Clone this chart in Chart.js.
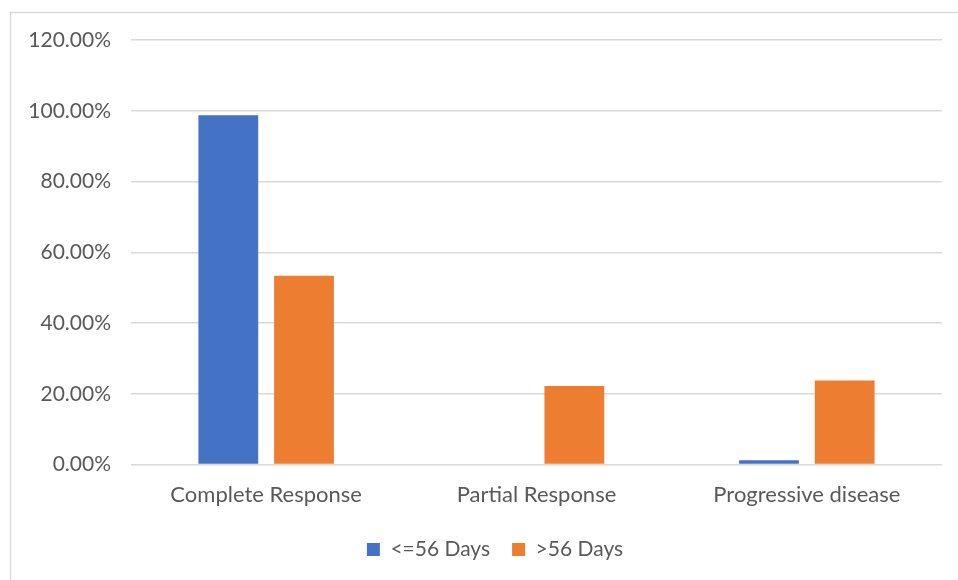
<!DOCTYPE html>
<html>
<head>
<meta charset="utf-8">
<script src="https://cdn.jsdelivr.net/npm/chart.js@4"></script>
<style>
  html, body { margin: 0; padding: 0; background: #ffffff; }
  #wrap { position: relative; width: 958px; height: 580px; }
</style>
</head>
<body>
<div id="wrap"><canvas id="chart" width="958" height="580"></canvas></div>
<script>
// Response categories and share of patients per group
const categories = ['Complete Response', 'Partial Response', 'Progressive disease'];
const seriesNames = ['<=56 Days', '>56 Days'];
const shortInterval = [0.987, 0.0, 0.012];
const longInterval = [0.534, 0.222, 0.238];
const yTicks = [0, 0.2, 0.4, 0.6, 0.8, 1.0, 1.2];

const TEXT = '#595959';
const FONT = 'Lato, "Open Sans", sans-serif';
const LEGEND_SHIFT = 24;

// Thin outer frame around the chart
const framePlugin = {
  id: 'frame',
  beforeDraw(chart) {
    const ctx = chart.ctx;
    ctx.save();
    ctx.strokeStyle = '#d9d9d9';
    ctx.lineWidth = 1.5;
    ctx.beginPath();
    ctx.moveTo(10.5, chart.height + 2);
    ctx.lineTo(10.5, 12.5);
    ctx.lineTo(chart.width + 2, 12.5);
    ctx.stroke();
    ctx.restore();
  }
};

// Centre the legend under the plot area rather than the whole canvas
const legendShiftPlugin = {
  id: 'legendShift',
  afterLayout(chart) {
    if (chart.legend) {
      chart.legend.left += LEGEND_SHIFT;
      chart.legend.right += LEGEND_SHIFT;
    }
  }
};

new Chart(document.getElementById('chart'), {
  type: 'bar',
  data: {
    labels: categories,
    datasets: [
      { label: seriesNames[0], data: shortInterval, backgroundColor: '#4472c4',
        categoryPercentage: 0.56, barPercentage: 0.79 },
      { label: seriesNames[1], data: longInterval, backgroundColor: '#ed7d31',
        categoryPercentage: 0.56, barPercentage: 0.79 }
    ]
  },
  options: {
    responsive: false,
    animation: false,
    layout: { padding: { left: 0, right: 16, top: 40, bottom: 10 } },
    plugins: {
      tooltip: { enabled: false },
      legend: {
        position: 'bottom',
        labels: {
          color: TEXT,
          font: { family: FONT, size: 21 },
          boxWidth: 13,
          boxHeight: 13,
          padding: 22
        }
      }
    },
    scales: {
      x: {
        grid: { display: false },
        border: { display: false },
        ticks: { color: TEXT, font: { family: FONT, size: 22 }, padding: 9 }
      },
      y: {
        min: 0,
        max: 1.2,
        afterFit(scale) { scale.width = 131; },
        afterBuildTicks(scale) { scale.ticks = yTicks.map(v => ({ value: v })); },
        grid: { color: '#d9d9d9', lineWidth: 1.5, drawTicks: false },
        border: { display: false },
        ticks: {
          color: TEXT,
          font: { family: FONT, size: 21 },
          padding: 20,
          callback: v => (v * 100).toFixed(2) + '%'
        }
      }
    }
  },
  plugins: [framePlugin, legendShiftPlugin]
});
</script>
</body>
</html>
